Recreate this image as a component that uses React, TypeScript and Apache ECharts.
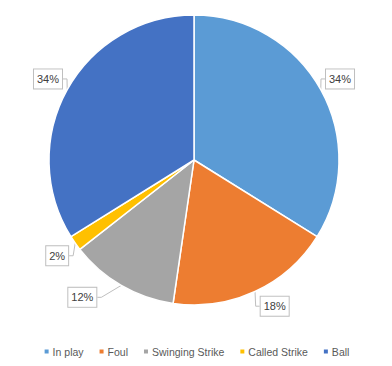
import React, { useEffect, useRef } from "react";
import * as echarts from "echarts";

const categories = ["In play", "Foul", "Swinging Strike", "Called Strike", "Ball"];
const values = [33.8, 18.4, 12.1, 1.7, 33.8];
const colors = ["#5B9BD5", "#ED7D31", "#A5A5A5", "#FFC000", "#4472C4"];

const CX = 194;
const CY = 160;
const R = 145;
const LABEL_R = 167;
// small angular nudges (degrees) for label placement, like the source's best-fit labels
const labelAngleNudge = [0, -4, 9, 0, 0];
const labelRadiusNudge = [0, 0, 10, 0, 0];

export default function App() {
  const ref = useRef<HTMLDivElement>(null);
  useEffect(() => {
    const chart = echarts.init(ref.current!, null, { renderer: "svg" });
    const total = values.reduce((a, b) => a + b, 0);
    const mids: number[] = [];
    let acc = 0;
    values.forEach((v) => {
      mids.push(((acc + v / 2) / total) * 360);
      acc += v;
    });
    chart.setOption({
      animation: false,
      color: colors,
      legend: {
        bottom: 4,
        left: "center",
        icon: "rect",
        itemWidth: 6,
        itemHeight: 6,
        itemGap: 14,
        textStyle: {
          fontFamily: "Liberation Sans",
          fontSize: 10.5,
          color: "#595959",
          padding: [0, 0, 0, -2],
        },
        data: categories,
      },
      series: [
        {
          type: "pie",
          center: [CX, CY],
          radius: R,
          startAngle: 90,
          clockwise: true,
          itemStyle: { borderColor: "#fff", borderWidth: 1.5 },
          label: {
            show: true,
            position: "outside",
            formatter: (p: any) => Math.round(p.percent) + "%",
            fontFamily: "Liberation Sans",
            fontSize: 11,
            lineHeight: 13,
            color: "#404040",
            backgroundColor: "#fff",
            borderColor: "#BFBFBF",
            borderWidth: 1,
            padding: [3, 3, 3, 3],
          },
          labelLine: {
            show: true,
            length: 8,
            length2: 4,
            lineStyle: { color: "#BFBFBF", width: 1 },
          },
          labelLayout: (p: any) => {
            const i = p.dataIndex;
            const a = ((mids[i] + labelAngleNudge[i]) * Math.PI) / 180;
            const r = LABEL_R + labelRadiusNudge[i];
            return {
              x: CX + r * Math.sin(a),
              y: CY - r * Math.cos(a),
              align: "center",
              verticalAlign: "middle",
            };
          },
          data: categories.map((c, i) => ({ name: c, value: values[i] })),
        },
      ],
    });
    return () => chart.dispose();
  }, []);
  return <div ref={ref} style={{ width: 392, height: 366, margin: -8 }} />;
}
